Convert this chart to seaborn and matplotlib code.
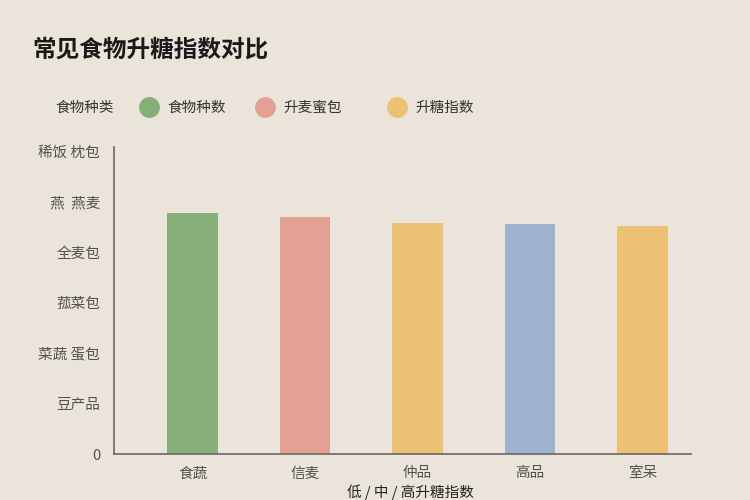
import matplotlib
matplotlib.use("Agg")
import matplotlib.pyplot as plt
from matplotlib.lines import Line2D
import seaborn as sns
import pandas as pd

# ---- data ----
categories = ["食蔬", "信麦", "仲品", "高品", "室呆"]
values = [4.77, 4.69, 4.57, 4.55, 4.51]
bar_colors = ["#86AE78", "#E2A193", "#EDC173", "#9DB3D0", "#EDC173"]
ytick_values = [0, 1, 2, 3, 4, 5, 6]
ytick_labels = ["0", "豆产品", "菜蔬 蛋包", "菰菜包", "全麦包", "燕  燕麦", "稀饭 枕包"]
legend_title = "食物种类"
legend_labels = ["食物种数", "升麦蜜包", "升糖指数"]
legend_colors = ["#86AE78", "#E2A193", "#EDC173"]
title = "常见食物升糖指数对比"
xlabel = "低 / 中 / 高升糖指数"

bg = "#EAE4DB"
sns.set_theme(style="white")
plt.rcParams["font.family"] = ["Noto Sans CJK SC", "DejaVu Sans"]

fig = plt.figure(figsize=(7.5, 5), dpi=100, facecolor=bg)
ax = fig.add_axes([0.152, 0.092, 0.769, 0.614])
ax.set_facecolor(bg)

df = pd.DataFrame({"cat": categories, "val": values})
sns.barplot(data=df, x="cat", y="val", hue="cat", palette=bar_colors,
            legend=False, width=0.45, ax=ax, saturation=1, linewidth=0)

ax.set_xlim(-0.70, 4.43)
ax.set_ylim(0, 6.08)
ax.set_yticks(ytick_values)
ax.set_yticklabels(ytick_labels)
for lbl in ax.get_yticklabels():
    lbl.set_va("center_baseline")
ax.tick_params(axis="y", length=0, pad=10, labelsize=10.5, labelcolor="#555050")
ax.tick_params(axis="x", length=0, pad=9, labelsize=10.5, labelcolor="#555050")
ax.set_ylabel("")
ax.set_xlabel("")

for s in ["top", "right"]:
    ax.spines[s].set_visible(False)
for s in ["left", "bottom"]:
    ax.spines[s].set_color("#6E6661")
    ax.spines[s].set_linewidth(1.2)

fig.text(32 / 750, 1 - 50 / 500, title, fontsize=17, fontweight="bold",
         color="#1A1A1A", va="center", ha="left")
fig.text(55 / 750, 1 - 108 / 500, legend_title, fontsize=10.5,
         color="#333333", va="center", ha="left")
fig.text(410 / 750, 1 - 492 / 500, xlabel, fontsize=10.5, color="#222222",
         va="center", ha="center")

legend_x = [134 / 750, 250 / 750, 382 / 750]
for lx, lab, col in zip(legend_x, legend_labels, legend_colors):
    h = Line2D([], [], marker="o", linestyle="", markersize=14,
               markerfacecolor=col, markeredgecolor=col)
    fig.legend(handles=[h], labels=[lab], loc="center left",
               bbox_to_anchor=(lx, 1 - 108 / 500), frameon=False,
               fontsize=10.5, handletextpad=0.3, borderaxespad=0,
               borderpad=0, labelcolor="#333333")

fig.savefig("out.png", dpi=100, facecolor=bg)
